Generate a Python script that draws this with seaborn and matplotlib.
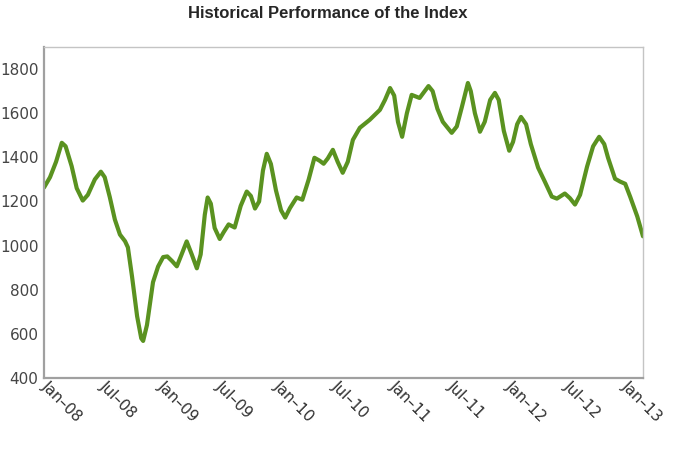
import matplotlib
matplotlib.use("Agg")
import matplotlib.pyplot as plt
import matplotlib.dates as mdates
import pandas as pd
import seaborn as sns

dates = [
    "2008-01-01", "2008-01-20", "2008-02-08", "2008-02-26", "2008-03-09", "2008-03-28",
    "2008-04-13", "2008-05-02", "2008-05-18", "2008-06-09", "2008-06-28", "2008-07-10",
    "2008-07-26", "2008-08-11", "2008-08-27", "2008-09-12", "2008-09-21", "2008-10-04",
    "2008-10-20", "2008-11-02", "2008-11-08", "2008-11-20", "2008-12-09", "2008-12-25",
    "2009-01-10", "2009-01-23", "2009-02-07", "2009-02-22", "2009-03-09", "2009-03-25",
    "2009-04-10", "2009-04-26", "2009-05-08", "2009-05-21", "2009-05-30", "2009-06-09",
    "2009-06-21", "2009-07-07", "2009-07-19", "2009-08-04", "2009-08-23", "2009-09-11",
    "2009-09-30", "2009-10-13", "2009-10-26", "2009-11-08", "2009-11-20", "2009-12-02",
    "2009-12-15", "2009-12-31", "2010-01-16", "2010-01-29", "2010-02-13", "2010-03-06",
    "2010-03-24", "2010-04-13", "2010-05-01", "2010-05-17", "2010-05-30", "2010-06-12",
    "2010-06-28", "2010-07-13", "2010-07-29", "2010-08-14", "2010-08-30", "2010-09-21",
    "2010-10-22", "2010-11-23", "2010-12-09", "2010-12-25", "2011-01-07", "2011-01-19",
    "2011-02-01", "2011-02-16", "2011-03-03", "2011-03-28", "2011-04-13", "2011-04-25",
    "2011-05-08", "2011-05-23", "2011-06-09", "2011-07-07", "2011-07-23", "2011-08-08",
    "2011-08-27", "2011-09-05", "2011-09-18", "2011-10-04", "2011-10-19", "2011-11-05",
    "2011-11-20", "2011-12-02", "2011-12-18", "2012-01-04", "2012-01-16", "2012-01-29",
    "2012-02-10", "2012-02-26", "2012-03-12", "2012-04-04", "2012-04-25", "2012-05-17",
    "2012-06-02", "2012-06-27", "2012-07-13", "2012-07-29", "2012-08-14", "2012-09-05",
    "2012-09-24", "2012-10-13", "2012-10-29", "2012-11-10", "2012-12-02", "2012-12-18",
    "2013-01-03", "2013-01-19", "2013-02-10", "2013-02-28",
]
index_values = [
    1263, 1310, 1380, 1466, 1450, 1360,
    1260, 1204, 1230, 1300, 1335, 1310,
    1220, 1118, 1050, 1020, 992, 860,
    680, 580, 568, 640, 834, 905,
    948, 951, 930, 906, 960, 1019,
    960, 897, 960, 1140, 1218, 1190,
    1080, 1030, 1060, 1096, 1082, 1180,
    1245, 1225, 1168, 1200, 1340, 1416,
    1370, 1250, 1160, 1127, 1170, 1218,
    1208, 1300, 1398, 1385, 1371, 1395,
    1434, 1380, 1330, 1380, 1479, 1534,
    1570, 1615, 1660, 1714, 1680, 1560,
    1493, 1600, 1683, 1669, 1700, 1723,
    1700, 1620, 1561, 1511, 1540, 1628,
    1737, 1700, 1600, 1516, 1561, 1660,
    1692, 1660, 1520, 1430, 1470, 1550,
    1583, 1550, 1460, 1353, 1290, 1222,
    1213, 1236, 1215, 1186, 1230, 1358,
    1450, 1493, 1460, 1398, 1303, 1290,
    1280, 1220, 1132, 1042,
]
y_ticks = [400, 600, 800, 1000, 1200, 1400, 1600, 1800]
title = "Historical Performance of the Index"

df = pd.DataFrame({"date": pd.to_datetime(dates), "value": index_values})

sns.set_style("white")
plt.rcParams["font.family"] = ["DejaVu Sans"]

fig = plt.figure(figsize=(6.8, 4.5), dpi=100)
ax = fig.add_axes([44 / 680, 1 - 378 / 450, (643 - 44) / 680, (378 - 47) / 450])

sns.lineplot(data=df, x="date", y="value", ax=ax, color="#5a9220",
             linewidth=3.0, solid_joinstyle="round", solid_capstyle="round")

ax.set_xlim(pd.Timestamp("2008-01-01"), pd.Timestamp("2013-02-28"))
ax.set_ylim(400, 1900)
ax.set_yticks(y_ticks)
ax.set_yticklabels([str(v) for v in y_ticks])
ax.set_xlabel("")
ax.set_ylabel("")

ax.xaxis.set_major_locator(mdates.MonthLocator(bymonth=[1, 7]))
ax.xaxis.set_major_formatter(mdates.DateFormatter("%b\u2013%y"))

ax.tick_params(axis="y", which="major", labelsize=11, labelcolor="#454545",
               length=3, width=1, color="#999999", pad=1, direction="out")
ax.tick_params(axis="x", which="major", labelsize=11, labelcolor="#303030",
               length=3, width=1, color="#999999", pad=1, direction="out")

for lab in ax.get_xticklabels():
    lab.set_rotation(-45)
    lab.set_ha("left")
    lab.set_va("center")
    lab.set_rotation_mode("anchor")

for side in ["left", "bottom"]:
    ax.spines[side].set_color("#a0a0a0")
    ax.spines[side].set_linewidth(1.6)
for side in ["top", "right"]:
    ax.spines[side].set_color("#c4c4c4")
    ax.spines[side].set_linewidth(1.0)

fig.text(328 / 680, 1 - 13 / 450, title, ha="center", va="center",
         fontsize=12, fontweight="bold", family=["Liberation Sans", "DejaVu Sans"])

fig.savefig("out.png", dpi=100, facecolor="white")
